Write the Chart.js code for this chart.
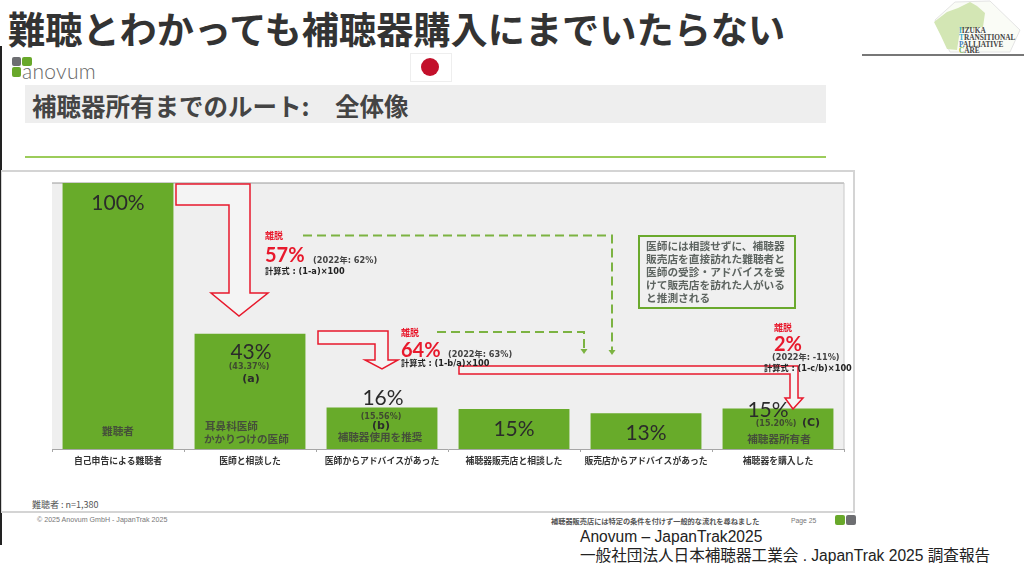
<!DOCTYPE html>
<html lang="ja">
<head>
<meta charset="utf-8">
<title>補聴器所有までのルート</title>
<script src="https://cdn.jsdelivr.net/npm/chart.js@4/dist/chart.umd.min.js"></script>
<style>
  html, body { margin: 0; padding: 0; background: #fff; }
  body { width: 1024px; height: 576px; position: relative; overflow: hidden; font-family: "Noto Sans CJK JP", sans-serif; }
  .abs { position: absolute; white-space: nowrap; }
  #chartBox { position: absolute; left: 0; top: 0; width: 1024px; height: 576px; }
</style>
</head>
<body>
<div class="abs" style="left:0;top:46px;width:2px;height:499px;background:#222"></div>
<div class="abs" style="left:8px;top:1px;font-size:37.2px;line-height:54px;font-weight:700;color:#333">難聴とわかっても補聴器購入にまでいたらない</div>
<div class="abs" style="left:862px;top:54px;width:162px;height:2px;background:#777"></div>

<svg class="abs" style="left:925px;top:0" width="99" height="54">
  <polygon points="10,20 30,2 65,1 95,30 85,52 25,52" fill="#fafcf6" stroke="#e4e4e4"/>
  <polygon points="9,22 22,12 33,8 45,2 52,6 60,13 58,27 35,30 32,50 22,49 16,36" fill="#d3e6b4"/>
  <g font-family="Liberation Serif" font-size="7.3" font-weight="700" fill="#444">
    <text x="34" y="33"><tspan fill="#39a9c9">I</tspan>IZUKA</text>
    <text x="34" y="40"><tspan fill="#39a9c9">T</tspan>RANSITIONAL</text>
    <text x="34" y="46.5"><tspan fill="#3c7fc1">P</tspan>ALLIATIVE</text>
    <text x="34" y="53"><tspan fill="#7ab648">C</tspan>ARE</text>
  </g>
</svg>

<div class="abs" style="left:12px;top:57px;width:9px;height:9px;background:#6d6e71;border-radius:2px"></div>
<div class="abs" style="left:22px;top:57px;width:10px;height:9px;background:#68a82a;border-radius:2px"></div>
<div class="abs" style="left:12px;top:67px;width:9px;height:10px;background:#68a82a;border-radius:2px"></div>
<div class="abs" style="left:22px;top:60px;font-family:Lato;font-weight:300;font-size:21px;line-height:22px;color:#666;letter-spacing:0.3px">anovum</div>

<div class="abs" style="left:410px;top:53px;width:40px;height:27px;background:#fff;border:1px solid #eee"></div>
<div class="abs" style="left:421px;top:58px;width:18px;height:18px;border-radius:50%;background:#c3102b"></div>

<div class="abs" style="left:25px;top:85px;width:801px;height:38px;background:#eeeeee"></div>
<div class="abs" style="left:32px;top:85px;font-size:24.5px;line-height:42px;font-weight:700;color:#444">補聴器所有までのルート:</div>
<div class="abs" style="left:335px;top:85px;font-size:24.5px;line-height:42px;font-weight:700;color:#444">全体像</div>
<div class="abs" style="left:25px;top:156px;width:801px;height:2px;background:#9ccc5a"></div>

<div class="abs" style="left:1px;top:170px;width:851px;height:339px;border:2px solid #d4d4d4;border-left-width:1px"></div>

<div class="abs" style="left:32px;top:498px;font-size:9px;line-height:14px;color:#555">難聴者 : n=1,380</div>
<div class="abs" style="left:37px;top:514px;font-size:7.1px;line-height:12px;font-family:'Liberation Sans';color:#777">© 2025 Anovum GmbH - JapanTrak 2025</div>
<div class="abs" style="left:551px;top:514px;font-size:7.2px;line-height:14px;font-weight:700;color:#555">補聴器販売店には特定の条件を付けず一般的な流れを尋ねました</div>
<div class="abs" style="left:791px;top:515px;font-size:6.8px;line-height:12px;font-family:'Liberation Sans';color:#777">Page 25</div>
<div class="abs" style="left:835px;top:515px;width:10px;height:10px;background:#68a82a;border-radius:2px"></div>
<div class="abs" style="left:846px;top:515px;width:10px;height:10px;background:#6d6e71;border-radius:2px"></div>
<div class="abs" style="left:580px;top:528px;font-size:15.6px;line-height:18px;font-family:'Liberation Sans';color:#222">Anovum – JapanTrak2025</div>
<div class="abs" style="left:580px;top:547px;font-size:15.6px;line-height:18px;font-family:'Liberation Sans','Noto Sans CJK JP';color:#222">一般社団法人日本補聴器工業会 . JapanTrak 2025 調査報告</div>

<div id="chartBox"><canvas id="funnelChart" width="1024" height="576"></canvas></div>

<script>
// chart data
const categories = ['自己申告による難聴者', '医師と相談した', '医師からアドバイスがあった', '補聴器販売店と相談した', '販売店からアドバイスがあった', '補聴器を購入した'];
const shares = [100, 43.37, 15.56, 15, 13.4, 15.2];
const shareLabels = ['100%', '43%', '16%', '15%', '13%', '15%'];
const exactLabels = ['', '(43.37%)', '(15.56%)', '', '', '(15.20%)'];
const dropRates = ['57%', '64%', '2%'];

const JP = '"Noto Sans CJK JP", sans-serif';
const LATIN_JP = '"DejaVu Sans", "Noto Sans CJK JP", sans-serif';
const GREEN = '#68ab2a';
const RED = '#e8192c';
const NOTE_LINES = ['医師には相談せずに、補聴器', '販売店を直接訪れた難聴者と', '医師の受診・アドバイスを受', 'けて販売店を訪れた人がいる', 'と推測される'];

function label(ctx, text, x, y, font, color, align) {
    ctx.font = font;
    ctx.fillStyle = color;
    ctx.textAlign = align || 'left';
    ctx.textBaseline = 'middle';
    ctx.fillText(text, x, y);
}

function arrow(ctx, pts) {
    ctx.beginPath();
    pts.forEach((p, i) => i ? ctx.lineTo(p[0], p[1]) : ctx.moveTo(p[0], p[1]));
    ctx.closePath();
    ctx.fillStyle = '#f4f4f4';
    ctx.fill();
    ctx.strokeStyle = RED;
    ctx.lineWidth = 1.5;
    ctx.stroke();
}

function dashedRoute(ctx, pts) {
    ctx.save();
    ctx.beginPath();
    pts.forEach((p, i) => i ? ctx.lineTo(p[0], p[1]) : ctx.moveTo(p[0], p[1]));
    ctx.setLineDash([9, 5]);
    ctx.strokeStyle = '#7cb342';
    ctx.lineWidth = 2;
    ctx.stroke();
    ctx.restore();
    const end = pts[pts.length - 1];
    ctx.beginPath();
    ctx.moveTo(end[0] - 3.5, end[1] - 1);
    ctx.lineTo(end[0] + 3.5, end[1] - 1);
    ctx.lineTo(end[0], end[1] + 4);
    ctx.closePath();
    ctx.fillStyle = '#7cb342';
    ctx.fill();
}

// plot background goes under the bars
const plotBackground = {
    id: 'plotBackground',
    beforeDatasetsDraw(chart) {
        const { ctx, chartArea: a } = chart;
        ctx.save();
        ctx.fillStyle = '#efefef';
        ctx.fillRect(a.left, a.top, a.width, a.height);
        ctx.strokeStyle = '#9a9a9a';
        ctx.lineWidth = 1;
        ctx.beginPath();
        ctx.moveTo(a.left, a.top);
        ctx.lineTo(a.right, a.top);
        ctx.stroke();
        ctx.strokeStyle = '#c8c8c8';
        ctx.beginPath();
        ctx.moveTo(a.right, a.top);
        ctx.lineTo(a.right, a.bottom);
        ctx.stroke();
        ctx.restore();
    }
};

// arrows, drop-out callouts and the texts inside the bars
const annotations = {
    id: 'annotations',
    afterDatasetsDraw(chart) {
        const { ctx, scales: { x, y } } = chart;
        const top = i => y.getPixelForValue(shares[i]);
        const mid = i => x.getPixelForValue(i);
        ctx.save();

        const big = '21px Lato';
        const dark = '#2b2b2b';
        const small = 'bold 8px ' + LATIN_JP;
        const letter = 'bold 11px "DejaVu Sans"';
        const inner = 'bold 10.6px ' + JP;
        const innerColor = '#454f3a';
        label(ctx, shareLabels[0], mid(0), 203, big, dark, 'center');
        label(ctx, '難聴者', mid(0), 431, inner, innerColor, 'center');

        label(ctx, shareLabels[1], mid(1) + 1, top(1) + 19, big, dark, 'center');
        label(ctx, exactLabels[1], mid(1) - 1, top(1) + 33, small, '#3f4a30', 'center');
        label(ctx, '(a)', mid(1) + 1, top(1) + 46, letter, dark, 'center');
        label(ctx, '耳鼻科医師', 205, 426, inner, innerColor);
        label(ctx, 'かかりつけの医師', 204, 439, inner, innerColor);

        label(ctx, shareLabels[2], mid(2) + 1, top(2) - 9, big, dark, 'center');
        label(ctx, exactLabels[2], mid(2) - 1, top(2) + 9, small, '#3f4a30', 'center');
        label(ctx, '(b)', mid(2) - 1, top(2) + 19, letter, dark, 'center');
        label(ctx, '補聴器使用を推奨', mid(2) - 2, 437, inner, innerColor, 'center');

        label(ctx, shareLabels[3], mid(3), top(3) + 20, big, dark, 'center');
        label(ctx, shareLabels[4], mid(4), top(4) + 20, big, dark, 'center');

        label(ctx, shareLabels[5], mid(5) - 10, top(5) + 2, big, dark, 'center');
        label(ctx, exactLabels[5], mid(5) - 2, top(5) + 15, small, '#3f4a30', 'center');
        label(ctx, '(C)', 811, top(5) + 15, letter, dark, 'center');
        label(ctx, '補聴器所有者', mid(5) + 1, 439, inner, innerColor, 'center');

        // red arrows
        arrow(ctx, [[176, 184], [250, 184], [250, 293], [268, 293], [239, 316], [211, 293], [229, 293], [229, 205], [176, 205]]);
        arrow(ctx, [[318, 331], [388, 331], [388, 360], [398, 360], [382, 369], [365, 360], [375, 360], [375, 344], [318, 344]]);
        arrow(ctx, [[459, 366], [798, 366], [798, 398], [803, 398], [793, 409], [785, 398], [790, 398], [790, 374], [459, 374]]);

        // dashed routes around the doctors
        dashedRoute(ctx, [[303, 235.5], [612, 235.5], [612, 351]]);
        dashedRoute(ctx, [[437, 332], [584, 332], [584, 350]]);

        // drop-out callouts
        const note = 'bold 8.2px ' + LATIN_JP;
        const formula = 'bold 8.2px ' + LATIN_JP;
        const head = 'bold 9px ' + JP;
        const rate = 'bold 20px Lato';
        label(ctx, '離脱', 265, 236, head, RED);
        label(ctx, dropRates[0], 265, 256, rate, RED);
        label(ctx, '(2022年: 62%)', 313, 261, note, '#444');
        label(ctx, '計算式 : (1-a)×100', 265, 272, formula, '#222');

        label(ctx, '離脱', 401, 333, head, RED);
        label(ctx, dropRates[1], 401, 351, rate, RED);
        label(ctx, '(2022年: 63%)', 448, 355, note, '#444');
        label(ctx, '計算式 : (1-b/a)×100', 401, 364, formula, '#222');

        label(ctx, '離脱', 774, 328, head, RED);
        label(ctx, dropRates[2], 774, 345, rate, RED);
        label(ctx, '(2022年: -11%)', 772, 358, note, '#444');
        label(ctx, '計算式 : (1-c/b)×100', 764, 369, formula, '#222');

        // note box
        ctx.fillStyle = '#f0f0f0';
        ctx.fillRect(639, 236, 156, 72);
        ctx.strokeStyle = '#6aa92d';
        ctx.lineWidth = 2;
        ctx.strokeRect(639, 236, 156, 72);
        NOTE_LINES.forEach((line, i) => {
            label(ctx, line, 646, 246 + i * 13, 'bold 10.7px ' + JP, '#5d6460');
        });
        ctx.restore();
    }
};

new Chart(document.getElementById('funnelChart').getContext('2d'), {
    type: 'bar',
    data: {
        labels: categories,
        datasets: [{
            data: shares,
            backgroundColor: GREEN,
            barPercentage: 0.84,
            categoryPercentage: 1
        }]
    },
    options: {
        responsive: false,
        animation: false,
        layout: { padding: { left: 52, right: 180, top: 183, bottom: 107 } },
        plugins: { legend: { display: false }, tooltip: { enabled: false } },
        scales: {
            y: { display: false, min: 0, max: 100 },
            x: {
                afterFit(scale) { scale.height = 20; },
                border: { color: '#a6a6a6' },
                grid: { drawOnChartArea: false, color: '#a6a6a6', tickLength: 3 },
                ticks: {
                    autoSkip: false,
                    maxRotation: 0,
                    padding: 3,
                    color: '#333',
                    font: { family: '"Noto Sans CJK JP"', size: 8.8, weight: 'bold' }
                }
            }
        }
    },
    plugins: [plotBackground, annotations]
});
</script>
</body>
</html>
